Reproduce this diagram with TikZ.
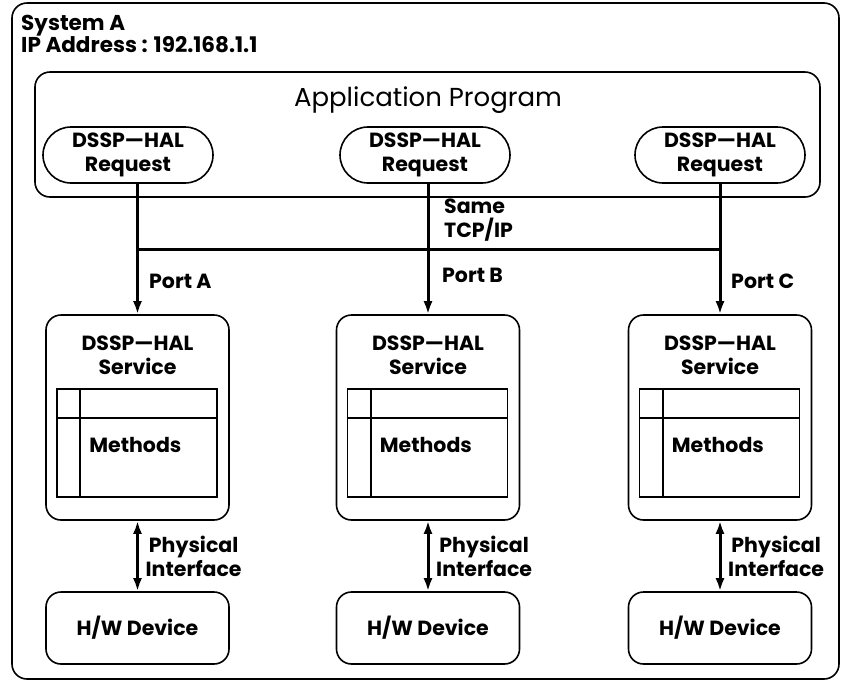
\documentclass[tikz,border=0pt]{standalone}
\usepackage{fontspec}
\setmainfont{Poppins}
\usetikzlibrary{arrows.meta,shapes.misc}
\tikzset{
  box/.style={draw,line width=1.6pt,rounded corners=15pt,inner sep=0pt},
  reqbox/.style={draw,line width=1.6pt,rounded rectangle,minimum width=170pt,minimum height=56pt,inner sep=0pt,align=center},
  tbl/.style={draw,line width=1.6pt,inner sep=0pt,minimum width=160pt,minimum height=108pt},
  conn/.style={line width=3pt},
  arr/.style={line width=3pt,-{Latex[length=13pt,width=9pt]}},
  darr/.style={line width=3pt,{Latex[length=13pt,width=9pt]}-{Latex[length=13pt,width=9pt]}},
  lbl/.style={inner sep=0pt,align=left},
  tx/.style={inner sep=0pt,align=center}
}
\begin{document}
\begin{tikzpicture}[x=1pt,y=-1pt,font=\fontsize{20.5}{24}\selectfont\bfseries]
\useasboundingbox (0,0) rectangle (841,681);
% outer system
\node[box,minimum width=827pt,minimum height=676pt] (sys) at (425.5,341) {};
\node[lbl,anchor=north west,font=\fontsize{21.5}{22}\selectfont\bfseries] (sysname) at (21,15) {System A\\IP Address : 192.168.1.1};
% application program
\node[box,minimum width=785pt,minimum height=125pt] (app) at (427.5,134.5) {};
\node[tx,font=\fontsize{26}{28}\selectfont] (apptitle) at (428,100) {Application Program};
\node[reqbox] (req1) at (128,155) {\raisebox{-3pt}{DSSP—HAL}\\\raisebox{-3pt}{Request}};
\node[reqbox] (req2) at (425,155) {\raisebox{-3pt}{DSSP—HAL}\\\raisebox{-3pt}{Request}};
\node[reqbox] (req3) at (720,155) {\raisebox{-3pt}{DSSP—HAL}\\\raisebox{-3pt}{Request}};
% services
\foreach \i/\x in {1/137.5,2/428,3/720}{
  \node[box,minimum width=183pt,minimum height=205pt] (svc\i) at (\x,417.5) {};
  \node[tx] (svct\i) at (\x,355) {DSSP—HAL\\Service};
  \node[tbl] (tab\i) at (\x-0.5,443) {};
  \draw[line width=1.6pt] ([xshift=24pt]tab\i.north west) -- ([xshift=24pt]tab\i.south west);
  \draw[line width=1.6pt] ([yshift=-30pt]tab\i.north west) -- ([yshift=-30pt]tab\i.north east);
  \node[tx,anchor=west] (meth\i) at ([xshift=33pt,yshift=-2pt]tab\i.west) {Methods};
  \node[box,minimum width=183pt,minimum height=72pt] (hw\i) at (\x,628) {};
  \node[tx] (hwt\i) at (hw\i) {H/W Device};
  \draw[darr] (svc\i.south) -- (hw\i.north);
  \node[tx,anchor=west] (phys\i) at ([xshift=8pt,yshift=35pt]hw\i.north) {Physical\\Interface};
}
% bus
\coordinate (busL) at (137.5,249);
\coordinate (busR) at (720,249);
\draw[conn] (svc1.north |- req1.south) -- (busL);
\draw[conn] (svc2.north |- req2.south) -- (svc2.north |- busL);
\draw[conn] (svc3.north |- req3.south) -- (busR);
\draw[conn] (busL) -- (busR);
\draw[arr] (busL) -- (svc1.north);
\draw[arr] (svc2.north |- busL) -- (svc2.north);
\draw[arr] (busR) -- (svc3.north);
\node[lbl,anchor=north west] (same) at (444,199) {Same\\TCP/IP};
\node[lbl,anchor=west] (porta) at (149,281) {Port A};
\node[lbl,anchor=west] (portb) at (442,275) {Port B};
\node[lbl,anchor=west] (portc) at (731,281) {Port C};
\end{tikzpicture}
\end{document}
